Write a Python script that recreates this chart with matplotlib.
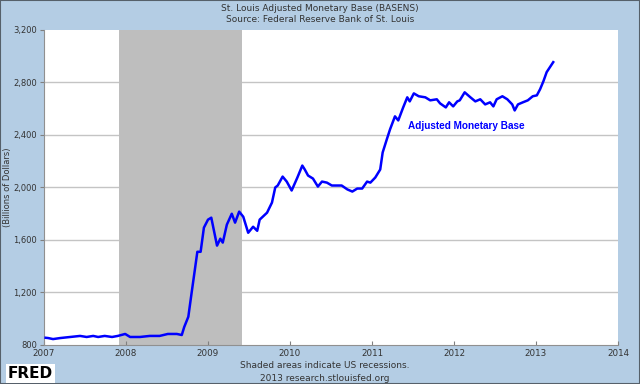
import matplotlib
matplotlib.use("Agg")
import matplotlib.pyplot as plt
from matplotlib.patches import Rectangle

# Data (decimal year, billions of dollars)
years = [2007.02, 2007.05, 2007.11, 2007.20, 2007.32, 2007.44, 2007.52, 2007.60, 2007.66, 2007.74,
         2007.83, 2007.90, 2007.99, 2008.05, 2008.17, 2008.29, 2008.41, 2008.51, 2008.62, 2008.68,
         2008.71, 2008.76, 2008.80, 2008.84, 2008.87, 2008.91, 2008.95, 2009.00, 2009.04, 2009.11,
         2009.15, 2009.18, 2009.23, 2009.29, 2009.33, 2009.38, 2009.43, 2009.49, 2009.55, 2009.60,
         2009.63, 2009.72, 2009.78, 2009.82, 2009.85, 2009.91, 2009.96, 2010.02, 2010.09, 2010.15,
         2010.18, 2010.22, 2010.28, 2010.34, 2010.39, 2010.45, 2010.51, 2010.57, 2010.63, 2010.70,
         2010.76, 2010.82, 2010.88, 2010.94, 2010.98, 2011.04, 2011.10, 2011.13, 2011.18, 2011.22,
         2011.28, 2011.32, 2011.38, 2011.43, 2011.46, 2011.51, 2011.57, 2011.65, 2011.71, 2011.79,
         2011.83, 2011.90, 2011.94, 2011.99, 2012.04, 2012.07, 2012.13, 2012.20, 2012.26, 2012.32,
         2012.38, 2012.44, 2012.48, 2012.52, 2012.59, 2012.65, 2012.71, 2012.74, 2012.78, 2012.84,
         2012.90, 2012.96, 2013.01, 2013.05, 2013.09, 2013.13, 2013.21]
base = [855, 853, 845, 853, 861, 869, 861, 869, 861, 869,
        861, 869, 884, 861, 861, 869, 869, 884, 884, 876,
        937, 1015, 1197, 1375, 1510, 1510, 1694, 1755, 1770, 1557,
        1610, 1580, 1717, 1800, 1732, 1816, 1777, 1655, 1701, 1670,
        1755, 1808, 1885, 2000, 2015, 2083, 2045, 1977, 2076, 2167,
        2137, 2091, 2068, 2007, 2045, 2037, 2015, 2015, 2015, 1985,
        1969, 1992, 1992, 2045, 2037, 2076, 2137, 2267, 2366, 2443,
        2542, 2511, 2610, 2687, 2656, 2717, 2695, 2687, 2664, 2672,
        2641, 2610, 2649, 2618, 2656, 2664, 2725, 2687, 2656, 2672,
        2633, 2649, 2618, 2672, 2695, 2672, 2633, 2587, 2633, 2649,
        2664, 2695, 2702, 2749, 2809, 2879, 2955]

recession = (2007.917, 2009.417)
xticks = [2007, 2008, 2009, 2010, 2011, 2012, 2013, 2014]
yticks = [800, 1200, 1600, 2000, 2400, 2800, 3200]
ytick_labels = ["800", "1,200", "1,600", "2,000", "2,400", "2,800", "3,200"]

bg = "#b4cde4"
fig = plt.figure(figsize=(6.4, 3.84), dpi=100, facecolor=bg)
ax = fig.add_axes([0.06875, 0.1016, 0.8969, 0.8203])
ax.set_facecolor("white")

ax.axvspan(recession[0], recession[1], color="#bebebe", zorder=1, lw=0)
for y in yticks[1:-1]:
    ax.axhline(y, color="#c4c4c4", lw=1.0, zorder=0.5)
ax.plot(years, base, color="#0000ff", lw=1.8, zorder=3, solid_joinstyle="round")

ax.set_xlim(2007, 2014)
ax.set_ylim(800, 3200)
ax.set_xticks(xticks)
ax.set_xticklabels([str(x) for x in xticks])
ax.set_yticks(yticks)
ax.set_yticklabels(ytick_labels)
ax.tick_params(axis="x", direction="in", length=3, color="#808080", labelsize=6.3,
               labelcolor="#333333", pad=3)
ax.tick_params(axis="y", direction="out", length=3, color="#808080", labelsize=6,
               labelcolor="#333333", pad=2)
for s in ["top", "right"]:
    ax.spines[s].set_visible(False)
ax.spines["left"].set_color("#909090")
ax.spines["bottom"].set_color("#909090")

ax.text(2011.44, 2466, "Adjusted Monetary Base", color="#0000ff", fontsize=7.2,
        fontweight="bold", family="Liberation Sans", ha="left", va="center", zorder=4)

ax.set_ylabel("(Billions of Dollars)", fontsize=6, color="#333333")
ax.yaxis.set_label_coords(-0.056, 0.5)

fig.text(0.5, 0.978, "St. Louis Adjusted Monetary Base (BASENS)", ha="center", va="center",
         fontsize=6.5, color="#333333")
fig.text(0.5, 0.949, "Source: Federal Reserve Bank of St. Louis", ha="center", va="center",
         fontsize=6.5, color="#333333")
fig.text(0.507, 0.047, "Shaded areas indicate US recessions.", ha="center", va="center",
         fontsize=6.5, color="#333333")
fig.text(0.507, 0.015, "2013 research.stlouisfed.org", ha="center", va="center",
         fontsize=6.5, color="#333333")

fig.text(0.012, 0.027, "FRED", ha="left", va="center", fontsize=11, fontweight="bold",
         color="black", bbox=dict(facecolor="white", edgecolor="none", pad=1.5))

fig.patches.append(Rectangle((0, 0), 1, 1, transform=fig.transFigure, fill=False,
                             edgecolor="#56606a", lw=1.5))

fig.savefig("out.png", dpi=100, facecolor=bg)
